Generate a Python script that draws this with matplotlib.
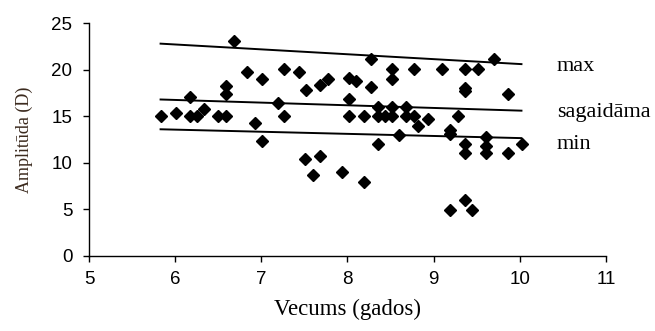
import matplotlib
matplotlib.use('Agg')
import matplotlib.pyplot as plt

# age (years) vs amplitude (D)
vecums = [6.68, 6.83, 7.01, 6.59, 6.59, 6.17, 7.19, 5.83, 6.01, 6.17,
          6.25, 6.34, 6.50, 6.59, 6.93, 7.01,
          8.27, 7.26, 7.44, 8.52, 8.52, 8.77, 7.52, 7.68, 7.77, 8.02,
          8.10, 8.27, 7.26, 8.02, 8.02, 8.19, 8.35, 8.35, 8.44, 8.52,
          8.52, 8.68, 8.68, 8.77, 8.82, 8.60, 8.35, 7.51, 7.68, 7.60,
          7.94, 8.19,
          9.70, 9.10, 9.36, 9.52, 9.36, 9.36, 9.86, 8.94, 9.28, 9.19,
          9.19, 9.61, 9.36, 9.36, 9.61, 9.61, 9.86, 10.03,
          9.19, 9.36, 9.45]
amplituda = [23.1, 19.75, 19.0, 18.2, 17.4, 17.1, 16.4, 15.0, 15.3, 15.0,
             15.0, 15.8, 15.0, 15.0, 14.3, 12.3,
             21.1, 20.1, 19.75, 20.1, 19.0, 20.1, 17.8, 18.35, 19.0, 19.1,
             18.75, 18.1, 15.0, 16.8, 15.0, 15.0, 16.0, 15.0, 15.0, 16.0,
             15.0, 16.0, 15.0, 15.0, 14.0, 13.0, 12.0, 10.4, 10.75, 8.7,
             9.0, 7.96,
             21.15, 20.1, 20.1, 20.1, 18.0, 17.7, 17.4, 14.7, 15.05, 13.5,
             13.1, 12.8, 12.0, 11.0, 11.75, 11.0, 11.0, 12.0,
             4.95, 6.0, 4.95]

# reference lines: x span and y at both ends
line_x = [5.83, 10.02]
line_max = [22.8, 20.6]
line_sag = [16.8, 15.6]
line_min = [13.6, 12.65]
line_names = ['max', 'sagaidāma', 'min']
label_y = [19.9, 14.9, 11.5]

fig = plt.figure(figsize=(6.55, 3.31), dpi=100)
ax = fig.add_axes([0.136, 0.227, 0.789, 0.703])

ax.plot(vecums, amplituda, 'D', color='black', markersize=6.5, zorder=3)
for ys in (line_max, line_sag, line_min):
    ax.plot(line_x, ys, '-', color='black', linewidth=1.4)

for name, yy in zip(line_names, label_y):
    ax.text(10.43, yy, name, ha='left', va='baseline', fontsize=16,
            family='Liberation Serif')

ax.set_xlim(5, 11)
ax.set_ylim(0, 25)
ax.set_xticks(range(5, 12))
ax.set_yticks(range(0, 26, 5))
for s in ('top', 'right'):
    ax.spines[s].set_visible(False)
for s in ('left', 'bottom'):
    ax.spines[s].set_linewidth(1.0)
ax.tick_params(direction='out', length=4.5, width=1.0, labelsize=13.5)
ax.tick_params(axis='y', pad=7.5)
ax.tick_params(axis='x', pad=6.5)
for lab in ax.get_xticklabels() + ax.get_yticklabels():
    lab.set_family('Liberation Sans')

ax.set_xlabel('Vecums (gados)', family='Liberation Serif', fontsize=16.5,
              labelpad=8)
ax.set_ylabel('Amplitūda (D)', family='Liberation Serif', fontsize=13,
              color='#3b2a1e', labelpad=13)

fig.savefig('out.png', dpi=100)
